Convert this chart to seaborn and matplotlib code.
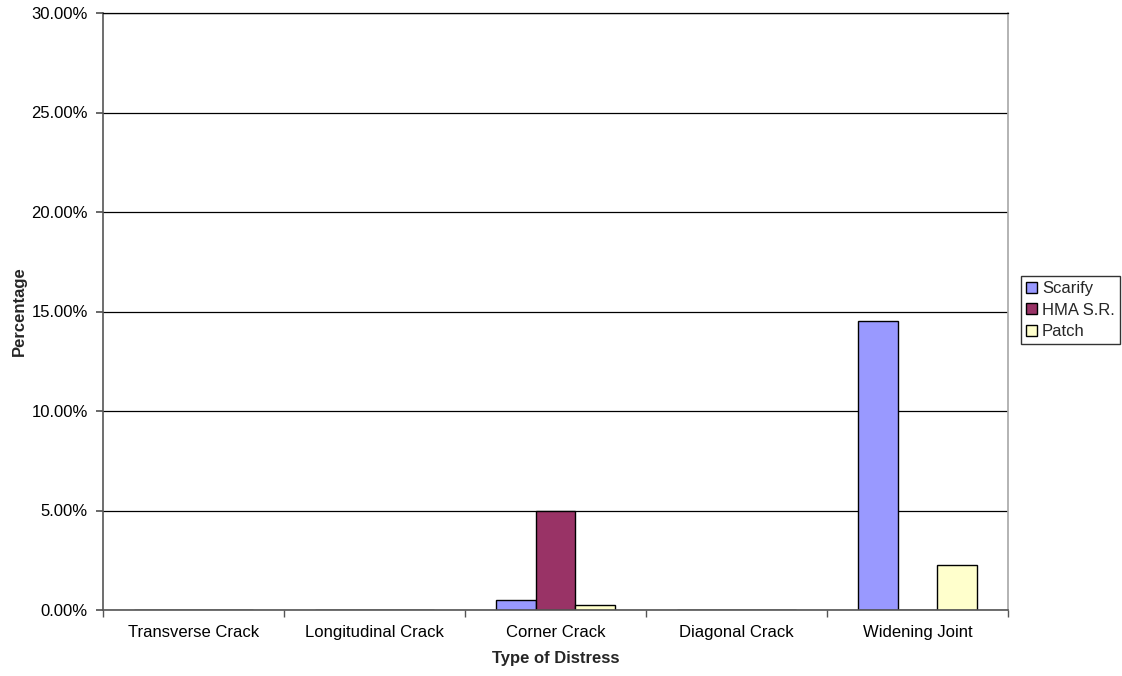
import matplotlib
matplotlib.use("Agg")
import matplotlib.pyplot as plt
import seaborn as sns
import pandas as pd
from matplotlib.ticker import PercentFormatter, FixedLocator
from matplotlib.patches import Patch as PatchHandle

categories = ["Transverse Crack", "Longitudinal Crack", "Corner Crack", "Diagonal Crack", "Widening Joint"]
series_names = ["Scarify", "HMA S.R.", "Patch"]
scarify = [0.0, 0.0, 0.50, 0.0, 14.50]
hma_sr = [0.0, 0.0, 5.00, 0.0, 0.0]
patch = [0.0, 0.0, 0.25, 0.0, 2.25]
y_ticks = [0, 5, 10, 15, 20, 25, 30]
colors = ["#9999FF", "#993366", "#FFFFCC"]

rows = []
for name, vals in zip(series_names, [scarify, hma_sr, patch]):
    for c, v in zip(categories, vals):
        rows.append({"Type of Distress": c, "Series": name, "Percentage": v})
df = pd.DataFrame(rows)

sns.set_theme(style="white")
plt.rcParams["font.family"] = ["Liberation Sans", "DejaVu Sans"]

FS = 12

fig = plt.figure(figsize=(11.22, 6.76), dpi=100)
ax = fig.add_axes([103 / 1122, 1 - 610 / 676, 905 / 1122, 597 / 676])

sns.barplot(data=df, x="Type of Distress", y="Percentage", hue="Series",
            hue_order=series_names, order=categories, palette=colors, saturation=1,
            width=0.66, edgecolor="black", linewidth=1.0, ax=ax, legend=False)

ax.set_ylim(0, 30)
ax.set_xlim(-0.5, len(categories) - 0.5)
ax.yaxis.set_major_locator(FixedLocator(y_ticks))
ax.yaxis.set_major_formatter(PercentFormatter(decimals=2))
ax.yaxis.grid(True, color="black", linewidth=0.9)
ax.set_axisbelow(True)

ax.set_xticks(range(len(categories)))
ax.set_xticklabels(categories)
ax.tick_params(axis="x", which="major", length=0, pad=11, labelsize=FS, colors="black")
ax.set_xticks([i - 0.5 for i in range(len(categories) + 1)], minor=True)
ax.tick_params(axis="x", which="minor", length=5, direction="out", color="#555555", bottom=True)
ax.tick_params(axis="y", which="major", length=5, direction="out", color="#555555", left=True,
               labelsize=FS, labelcolor="black", pad=6)

for side in ["left", "bottom"]:
    ax.spines[side].set_color("#555555")
    ax.spines[side].set_linewidth(1.2)
ax.spines["right"].set_color("#aaaaaa")
ax.spines["top"].set_color("black")
ax.spines["top"].set_linewidth(0.9)

ax.set_xlabel("Type of Distress", fontsize=FS, fontweight="bold", labelpad=8)
ax.set_ylabel("Percentage", fontsize=FS, fontweight="bold", labelpad=3)

handles = [PatchHandle(facecolor=c, edgecolor="black", linewidth=1.0, label=n)
           for c, n in zip(colors, series_names)]
leg = fig.legend(handles=handles, loc="upper left", bbox_to_anchor=(1021 / 1122, 1 - 276 / 676),
                 frameon=True, fancybox=False, edgecolor="black", fontsize=FS,
                 handlelength=0.65, handleheight=0.65, handletextpad=0.3,
                 borderaxespad=0, borderpad=0.3, labelspacing=0.4)
leg.get_frame().set_linewidth(1.0)

fig.savefig("out.png", dpi=100, facecolor="white")
